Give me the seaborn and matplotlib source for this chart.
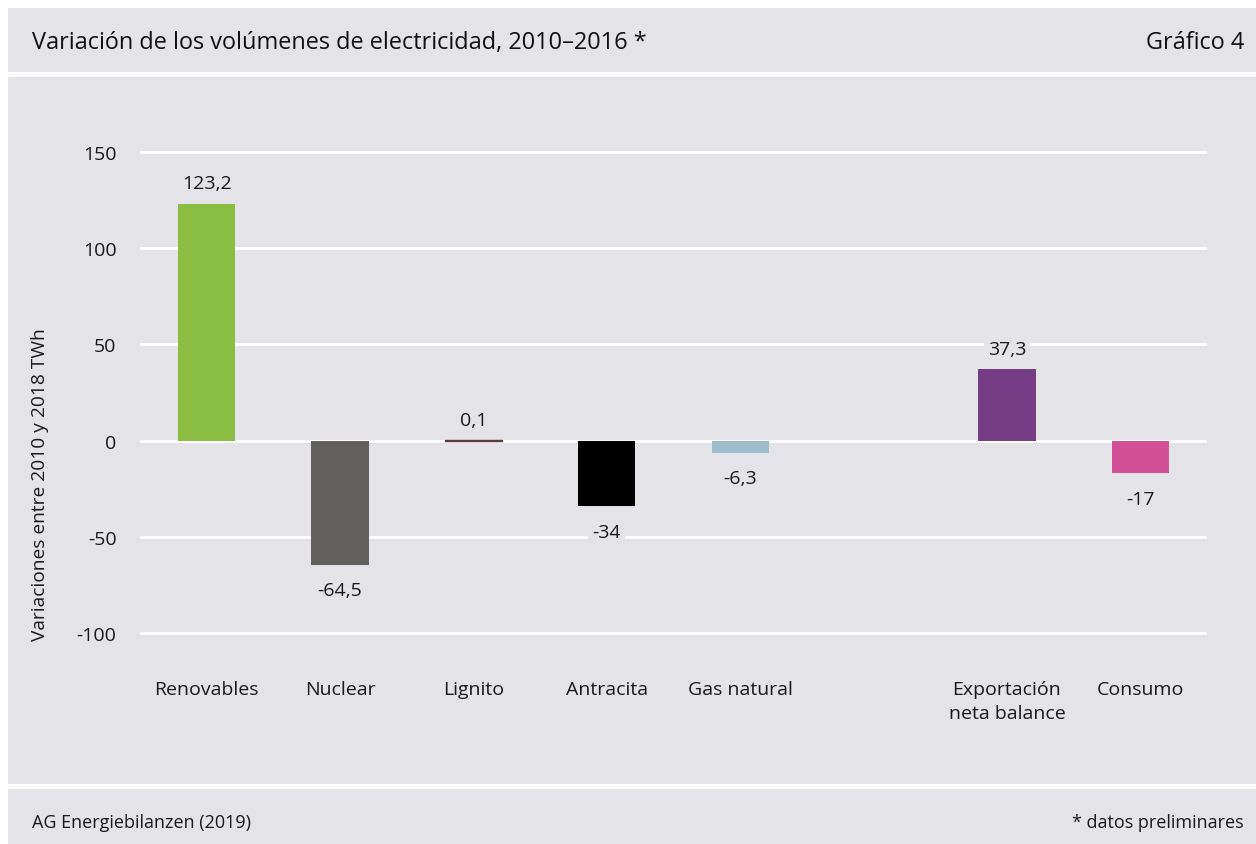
import matplotlib
matplotlib.use("Agg")
import matplotlib.pyplot as plt
import seaborn as sns
import pandas as pd
from matplotlib.patches import Rectangle

categories = ["Renovables", "Nuclear", "Lignito", "Antracita", "Gas natural",
              "Exportación\nneta balance", "Consumo"]
values = [123.2, -64.5, 0.1, -34, -6.3, 37.3, -17]
labels = ["123,2", "-64,5", "0,1", "-34", "-6,3", "37,3", "-17"]
colors = ["#8abd41", "#63615e", "#5a3b3b", "#000000", "#9dbccd", "#763c86", "#d25097"]
yticks = [-100, -50, 0, 50, 100, 150]

title = "Variación de los volúmenes de electricidad, 2010–2016 *"
chart_no = "Gráfico 4"
ylabel = "Variaciones entre 2010 y 2018 TWh"
source = "AG Energiebilanzen (2019)"
note = "* datos preliminares"

BG = "#e3e3e8"
TXT = "#1a1a1a"
W, H = 1256, 845
FONT = ["Open Sans", "DejaVu Sans"]

sns.set_theme(style="white")
plt.rcParams["font.family"] = FONT

fig = plt.figure(figsize=(W / 100, H / 100), dpi=100)
fig.patch.set_facecolor("white")

# panels
for (y0, y1) in [(9, 73), (78, 785), (790, 845)]:
    fig.patches.append(Rectangle((8 / W, 1 - y1 / H), (W - 8) / W, (y1 - y0) / H,
                                 transform=fig.transFigure, facecolor=BG,
                                 edgecolor="none", zorder=-5))

# axes: y=150 at px 153, y=-100 at px 634; extend 2 units each side
ppu = (634 - 153) / 250
top_px = 153 - 2 * ppu
bot_px = 634 + 2 * ppu
ax = fig.add_axes([140 / W, 1 - bot_px / H, (1207 - 140) / W, (bot_px - top_px) / H])
ax.set_zorder(3)
ax.set_facecolor("none")

gap = " "
order = categories[:5] + [gap] + categories[5:]
df = pd.DataFrame({"cat": categories, "val": values})
palette = dict(zip(categories, colors))
palette[gap] = "#ffffff"
sns.barplot(data=df, x="cat", y="val", hue="cat", order=order, palette=palette,
            width=0.43, legend=False, ax=ax, saturation=1, zorder=3, linewidth=0)

for patch in ax.patches:
    h = patch.get_height()
    if abs(h) < 1:
        patch.set_edgecolor(patch.get_facecolor())
        patch.set_linewidth(1.0)

ax.set_ylim(-102, 152)
ax.set_yticks(yticks)
ax.set_yticklabels([str(t) for t in yticks])
ax.grid(axis="y", color="white", linewidth=2, zorder=1)
ax.grid(axis="x", visible=False)
ax.set_axisbelow(True)
for s in ax.spines.values():
    s.set_visible(False)
ax.tick_params(axis="y", length=0, pad=17, labelsize=14, labelcolor=TXT)
ax.tick_params(axis="x", length=0, pad=31, labelsize=14, labelcolor=TXT)
ax.set_xlabel("")
ax.set_ylabel("")
for lab in ax.get_xticklabels():
    lab.set_verticalalignment("top")
    lab.set_linespacing(1.4)

pos = {c: i for i, c in enumerate(order)}
for c, v, lab in zip(categories, values, labels):
    x = pos[c]
    if v >= 0:
        ax.annotate(lab, (x, v), xytext=(0, 8), textcoords="offset points",
                    ha="center", va="bottom", fontsize=14, color=TXT,
                    bbox=dict(facecolor=BG, edgecolor="none", pad=3), zorder=4)
    else:
        ax.annotate(lab, (x, v), xytext=(0, -12), textcoords="offset points",
                    ha="center", va="top", fontsize=14, color=TXT,
                    bbox=dict(facecolor=BG, edgecolor="none", pad=3), zorder=4)

fig.text(32 / W, 1 - 43 / H, title, ha="left", va="center", fontsize=16.9, color="#111111")
fig.text(1244 / W, 1 - 43 / H, chart_no, ha="right", va="center", fontsize=16.9, color="#111111")
fig.text(40 / W, 1 - 485 / H, ylabel, rotation=90, ha="center", va="center",
         fontsize=13.8, color=TXT)
fig.text(32 / W, 1 - 823 / H, source, ha="left", va="center", fontsize=13, color=TXT)
fig.text(1244 / W, 1 - 823 / H, note, ha="right", va="center", fontsize=13, color=TXT)

fig.savefig("out.png", dpi=100, facecolor="white")
